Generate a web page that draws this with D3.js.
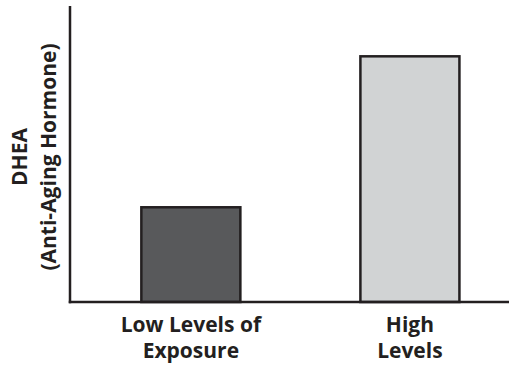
<!DOCTYPE html>
<html>
<head>
<meta charset="utf-8">
<script src="https://cdn.jsdelivr.net/npm/d3@7"></script>
<style>
  html, body { margin: 0; padding: 0; background: #ffffff; }
  svg { display: block; }
  text { font-family: "Open Sans", Roboto, sans-serif; font-weight: 700; fill: #231f20; }
</style>
</head>
<body>
<svg id="chart" width="509" height="371"></svg>
<script>
// DHEA level by exposure group (relative units, no numeric axis)
const categories = ["Low Levels of Exposure", "High Levels"];
const labelLines = [["Low Levels of", "Exposure"], ["High", "Levels"]];
const values = [32, 83];
const fills = ["#58595b", "#d1d3d4"];
const yTitle = ["DHEA", "(Anti-Aging Hormone)"];

const svg = d3.select("#chart");
const W = 509, H = 371;
const margin = { top: 6, right: 0, bottom: 69, left: 70 };
const x0 = margin.left, y0 = H - margin.bottom;

const x = d3.scaleBand()
  .domain(categories)
  .range([x0, W])
  .paddingInner(0.548)
  .paddingOuter(0.276)
  .align(0.59);

const y = d3.scaleLinear()
  .domain([0, 100])
  .range([y0, margin.top]);

const ink = "#231f20";

// bars
svg.append("g")
  .selectAll("rect")
  .data(categories)
  .join("rect")
  .attr("x", d => x(d))
  .attr("y", (d, i) => y(values[i]))
  .attr("width", x.bandwidth())
  .attr("height", (d, i) => y0 - y(values[i]))
  .attr("fill", (d, i) => fills[i])
  .attr("stroke", ink)
  .attr("stroke-width", 2.5);

// axes: plain lines, no ticks
const xAxis = svg.append("g")
  .attr("transform", `translate(0,${y0})`)
  .call(d3.axisBottom(x).tickSize(0).tickFormat(""));
xAxis.select(".domain").attr("stroke", ink).attr("stroke-width", 2.5)
  .attr("d", `M${x0 - 1.25},0H${W}`);

const yAxis = svg.append("g")
  .attr("transform", `translate(${x0},0)`)
  .call(d3.axisLeft(y).tickSize(0).tickFormat("").ticks(0));
yAxis.select(".domain").attr("stroke", ink).attr("stroke-width", 2.5)
  .attr("d", `M0,${margin.top}V${y0 + 1.25}`);

// category labels, centred under each bar
const lab = svg.append("g").selectAll("text")
  .data(categories)
  .join("text")
  .attr("font-size", 21)
  .attr("text-anchor", "middle");
lab.each(function (d, i) {
  const cx = x(d) + x.bandwidth() / 2;
  d3.select(this).selectAll("tspan")
    .data(labelLines[i])
    .join("tspan")
    .attr("x", cx)
    .attr("y", (t, j) => 332 + j * 26)
    .text(t => t);
});

// y title, rotated
const yt = svg.append("text")
  .attr("transform", "translate(0,157) rotate(-90)")
  .attr("text-anchor", "middle")
  .attr("font-size", 21);
yt.selectAll("tspan")
  .data(yTitle)
  .join("tspan")
  .attr("x", 0)
  .attr("y", (t, j) => 27 + j * 29)
  .text(t => t);
</script>
</body>
</html>
